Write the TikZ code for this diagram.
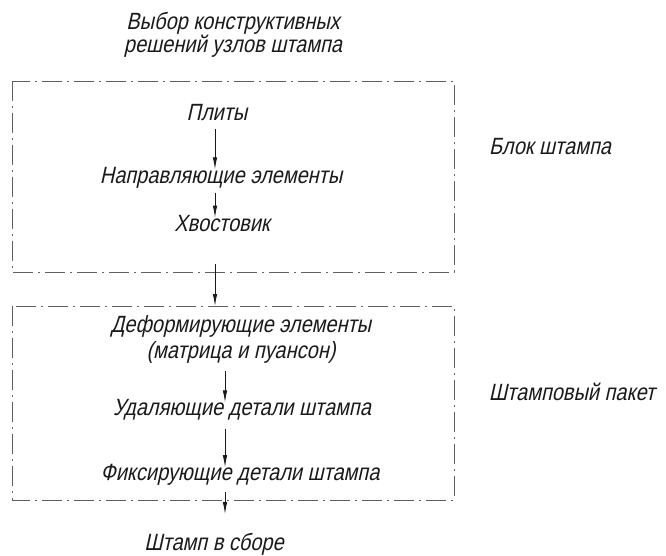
\documentclass[tikz,border=0pt]{standalone}
\usepackage{fontspec}
\setmainfont{Liberation Sans}[FakeSlant=0.22,FakeStretch=0.85]
\usetikzlibrary{arrows.meta}
\definecolor{ink}{HTML}{1A1A1A}
\definecolor{frame}{HTML}{606060}
\begin{document}
\begin{tikzpicture}[x=1pt,y=-1pt,
  lbl/.style={inner sep=0pt,text=ink,font=\fontsize{23.5}{23}\selectfont,align=center},
  grp/.style={draw=frame,line width=0.9pt,dash pattern=on 20pt off 5pt on 2pt off 5pt},
  flow/.style={draw=ink,line width=0.8pt,-{Latex[length=12pt,width=4.5pt]}}]
\useasboundingbox (0,0) rectangle (666,555);
\node[lbl] (t) at (233,35) {Выбор конструктивных\\[0pt]решений узлов штампа};
\draw[grp] (12,81) rectangle (454,272);
\coordinate (b1top) at (215,272);
\node[lbl] (n1) at (217,113) {Плиты};
\node[lbl] (n2) at (221,178) {Направляющие элементы};
\node[lbl] (n3) at (222,224) {Хвостовик};
\node[lbl] (blk) at (550,147) {Блок штампа};
\draw[grp] (12,306) rectangle (454,500);
\coordinate (b2top) at (215,306);
\coordinate (b2bot) at (225,500);
\node[lbl] (d) at (241,339) {Деформирующие элементы\\[3pt](матрица и пуансон)};
\node[lbl] (u) at (242,410) {Удаляющие детали штампа};
\node[lbl] (f) at (240,475) {Фиксирующие детали штампа};
\node[lbl] (s) at (214,544) {Штамп в сборе};
\node[lbl] (pk) at (572,392) {Штамповый пакет};
\draw[flow] ([xshift=-2pt]n1.south) ++(0,8) coordinate (a1s) -- ([yshift=-2pt]a1s |- n2.north);
\draw[flow] ([xshift=-6pt]n2.south) ++(0,4) coordinate (a2s) -- ([yshift=-2pt]a2s |- n3.north);
\draw[flow] ([yshift=8pt]b1top) -- (b2top);
\draw[flow] ([xshift=-16pt]d.south) ++(0,8) coordinate (a4s) -- ([yshift=-3pt]a4s |- u.north);
\draw[flow] ([xshift=-17pt]u.south) ++(0,8) coordinate (a5s) -- ([yshift=-3pt]a5s |- f.north);
\draw[flow] ([yshift=8pt]b2bot) -- ++(0,22) coordinate (a6e);
\end{tikzpicture}
\end{document}
